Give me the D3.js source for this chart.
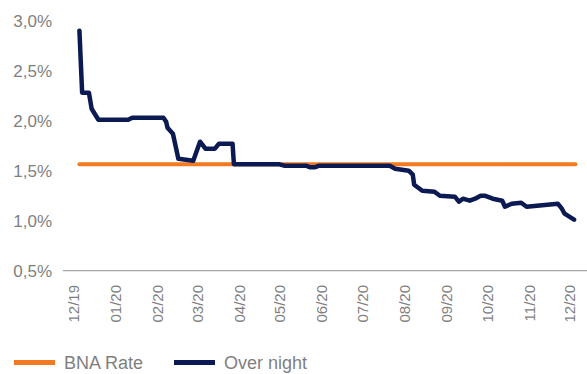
<!DOCTYPE html>
<html>
<head>
<meta charset="utf-8">
<script src="https://cdn.jsdelivr.net/npm/d3@7"></script>
<style>
  body { margin: 0; background: #fff; }
  svg { display: block; font-family: "Liberation Sans", Arial, sans-serif; }
</style>
</head>
<body>
<svg id="chart"></svg>
<script>
// series values (percent)
const bnaDates = ["2019-12-05", "2020-12-05"];
const bnaValues = [1.565, 1.565];

const onDates = [
  "2019-12-05", "2019-12-07", "2019-12-12", "2019-12-14", "2019-12-19",
  "2020-01-10", "2020-01-13", "2020-02-05", "2020-02-07", "2020-02-08",
  "2020-02-12", "2020-02-16", "2020-02-27", "2020-03-03", "2020-03-07",
  "2020-03-14", "2020-03-17", "2020-03-27", "2020-03-28", "2020-04-30",
  "2020-05-04", "2020-05-20", "2020-05-23", "2020-05-27", "2020-05-30",
  "2020-07-21", "2020-07-25", "2020-08-04", "2020-08-07", "2020-08-08",
  "2020-08-14", "2020-08-23", "2020-08-27", "2020-09-07", "2020-09-10",
  "2020-09-13", "2020-09-18", "2020-09-22", "2020-09-26", "2020-09-29",
  "2020-10-05", "2020-10-12", "2020-10-14", "2020-10-19", "2020-10-26",
  "2020-10-30", "2020-11-22", "2020-11-25", "2020-11-27", "2020-12-04"
];
const onValues = [
  2.90, 2.28, 2.28, 2.12, 2.01,
  2.01, 2.03, 2.03, 1.99, 1.93,
  1.87, 1.62, 1.60, 1.79, 1.72,
  1.72, 1.77, 1.77, 1.565, 1.565,
  1.55, 1.55, 1.535, 1.535, 1.55,
  1.55, 1.52, 1.50, 1.46, 1.36,
  1.30, 1.29, 1.25, 1.24, 1.19,
  1.22, 1.20, 1.22, 1.25, 1.25,
  1.22, 1.20, 1.14, 1.17, 1.18,
  1.14, 1.17, 1.12, 1.07, 1.01
];

const yTicks = [0.5, 1.0, 1.5, 2.0, 2.5, 3.0];
const xTickDates = ["2019-12-01", "2020-01-01", "2020-02-01", "2020-03-01", "2020-04-01",
  "2020-05-01", "2020-06-01", "2020-07-01", "2020-08-01", "2020-09-01",
  "2020-10-01", "2020-11-01", "2020-12-01"];

const seriesNames = ["BNA Rate", "Over night"];
const seriesColors = ["#f47a22", "#0b1a52"];

const width = 587, height = 374;
const parse = d3.timeParse("%Y-%m-%d");
const locale = d3.formatLocale({ decimal: ",", thousands: ".", grouping: [3], currency: ["", "€"] });
const fmt = locale.format(".1f");

const svg = d3.select("#chart").attr("width", width).attr("height", height);

const x = d3.scaleTime()
    .domain([parse("2019-12-01"), parse("2020-12-01")])
    .range([74, 570]);
const y = d3.scaleLinear()
    .domain([0.5, 3.0])
    .range([270.7, 20.7]);

// y labels
svg.append("g").selectAll("text")
    .data(yTicks)
    .enter().append("text")
    .attr("x", 52)
    .attr("y", d => y(d))
    .attr("dy", "0.35em")
    .attr("text-anchor", "end")
    .attr("fill", "#7f7f7f")
    .style("font-size", "17px")
    .text(d => fmt(d) + "%");

// x axis baseline
svg.append("line")
    .attr("x1", 63).attr("x2", width)
    .attr("y1", y(0.5)).attr("y2", y(0.5))
    .attr("stroke", "#a6a6a6")
    .attr("stroke-width", 1.2);

// x labels, rotated
svg.append("g").selectAll("text")
    .data(xTickDates.map(parse))
    .enter().append("text")
    .attr("transform", d => `translate(${x(d)},285) rotate(-90)`)
    .attr("dy", "0.35em")
    .attr("text-anchor", "end")
    .attr("fill", "#7f7f7f")
    .style("font-size", "15px")
    .text(d3.timeFormat("%m/%y"));

const line = d3.line()
    .x(d => x(d[0]))
    .y(d => y(d[1]));

const bnaData = bnaDates.map((d, i) => [parse(d), bnaValues[i]]);
const onData = onDates.map((d, i) => [parse(d), onValues[i]]);

svg.append("path")
    .datum(bnaData)
    .attr("d", line)
    .attr("fill", "none")
    .attr("stroke", seriesColors[0])
    .attr("stroke-width", 4)
    .attr("stroke-linecap", "round");

svg.append("path")
    .datum(onData)
    .attr("d", line)
    .attr("fill", "none")
    .attr("stroke", seriesColors[1])
    .attr("stroke-width", 4.5)
    .attr("stroke-linecap", "round")
    .attr("stroke-linejoin", "round");

// legend
const legendX = [14, 174];
seriesNames.forEach((name, i) => {
    const g = svg.append("g").attr("transform", `translate(${legendX[i]},362.5)`);
    g.append("rect")
        .attr("x", 0).attr("y", -2.5)
        .attr("width", 41).attr("height", 5)
        .attr("fill", seriesColors[i]);
    g.append("text")
        .attr("x", 50)
        .attr("y", 6.5)
        .attr("fill", "#7f7f7f")
        .style("font-size", "18px")
        .text(name);
});
</script>
</body>
</html>
